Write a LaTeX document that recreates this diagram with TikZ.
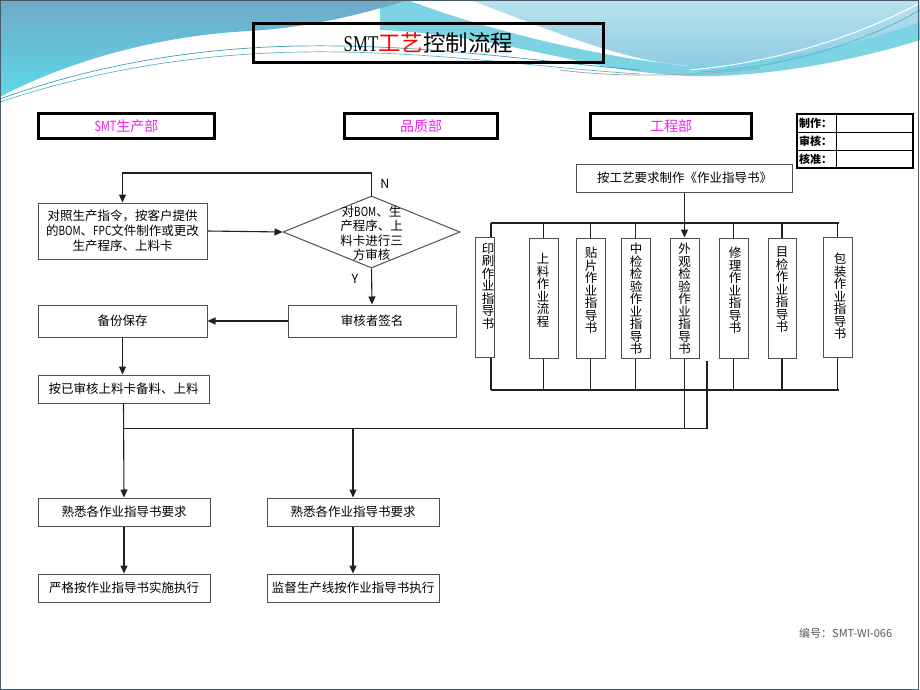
\documentclass[tikz,border=0pt]{standalone}
\usepackage{fontspec}
\usepackage{graphicx}
\setmainfont{Noto Sans CJK SC}
\newfontfamily\titlelat{Liberation Serif}
\usetikzlibrary{arrows.meta,shapes.geometric,calc}
\definecolor{deptc}{HTML}{F020F0}
\definecolor{boxc}{HTML}{505050}
\definecolor{lineC}{HTML}{202020}
\definecolor{blueA}{HTML}{6FA9C9}
\definecolor{blueB}{HTML}{5FD8E8}
\definecolor{cyanC}{HTML}{7CD3E3}
\definecolor{ltA}{HTML}{B8E2EE}
\definecolor{ltB}{HTML}{8FCBE3}
\definecolor{framec}{HTML}{4A5A66}
\newcommand\fsz[2]{\fontsize{#1}{#2}\selectfont}
\newcommand\nlat[1]{\scalebox{0.8}[1]{#1}}
\begin{document}
\begin{tikzpicture}[x=1pt,y=-1pt,
  pbox/.style={draw=boxc, line width=1pt, inner sep=0pt, align=center, font=\fsz{12.5}{15}},
  vbox/.style={draw=boxc, line width=1pt, inner sep=0pt, minimum height=120pt},
  vtext/.style={anchor=north, inner sep=0pt, align=center, font=\fsz{12.5}{12.5}},
  hdr/.style={draw=black, line width=3pt, minimum height=24pt, inner sep=0pt, text=deptc, font=\fsz{14}{16}},
  con/.style={draw=lineC, line width=1.1pt},
  arr/.style={con, -{Triangle[length=8pt,width=7pt]}},
  lbl/.style={inner sep=0pt, font=\fsz{12.5}{15}}]
\useasboundingbox (0,0) rectangle (920,690);
\fill[white] (0,0) rectangle (920,690);
% background waves
\fill[cyanC] (380,0) -- (920,0) -- (920,40) .. controls (850,62) and (760,78) .. (690,76)
  .. controls (640,74) and (600,66) .. (560,57) .. controls (500,44) and (440,32) .. (380,30) -- cycle;
\shade[top color=ltA, bottom color=ltB] (470,0) -- (920,0) -- (920,22) .. controls (850,48) and (760,64) .. (690,66)
  .. controls (620,62) and (530,22) .. (470,0) -- cycle;
\fill[white] (408,0) -- (470,0) .. controls (530,22) and (620,62) .. (690,66)
  .. controls (600,58) and (480,28) .. (408,0) -- cycle;
\shade[top color=blueA, bottom color=blueB] (0,0) -- (408,0) .. controls (350,18) and (300,28) .. (250,31)
  .. controls (150,36) and (60,65) .. (0,97) -- cycle;
\draw[color={rgb,255:red,58;green,160;blue,176}, line width=0.7pt] (0,99) .. controls (80,70) and (180,48) .. (300,46) .. controls (430,44) and (540,62) .. (640,70);
\draw[color={rgb,255:red,88;green,184;blue,200}, line width=0.7pt] (0,102) .. controls (90,72) and (190,54) .. (300,52) .. controls (430,50) and (540,68) .. (640,74);
\draw[color={rgb,255:red,160;green,168;blue,176}, line width=0.8pt] (560,70) .. controls (620,78) and (700,76) .. (760,68);
\draw[white, line width=1pt] (920,3) .. controls (860,35) and (780,62) .. (690,70);
\draw[color={rgb,255:red,90;green,184;blue,208}, line width=0.8pt] (920,10) .. controls (860,45) and (780,68) .. (700,72);
\draw[framec, line width=1.2pt] (0.6,0.6) rectangle (918.6,689.4);

% title
\node[draw=black, line width=3.5pt, minimum width=350pt, minimum height=39pt, inner sep=0pt, font=\fsz{22.5}{24}] (title) at (428.5,43)
  {\scalebox{0.75}[1]{\titlelat SMT}\textcolor{red}{工艺}控制流程};

% department headers
\node[hdr, minimum width=176pt] (hA) at (126.5,126) {\scalebox{0.78}[1]{SMT}生产部};
\node[hdr, minimum width=153pt] (hB) at (421,126) {品质部};
\node[hdr, minimum width=161pt] (hC) at (671,126) {工程部};

% sign-off table
\draw[black, line width=1.2pt] (797,114) rectangle (913,168);
\draw[black, line width=1pt] (797,132) -- (913,132) (797,150) -- (913,150) (836,114) -- (836,168);
\node[anchor=west, inner sep=0pt, font=\fsz{11}{12}\bfseries] (t1) at (799,123) {制作：};
\node[anchor=west, inner sep=0pt, font=\fsz{11}{12}\bfseries] (t2) at (799,141) {审核：};
\node[anchor=west, inner sep=0pt, font=\fsz{11}{12}\bfseries] (t3) at (799,159) {核准：};

% left flow
\node[pbox, minimum width=169pt, minimum height=56pt] (b1) at (122.5,231) {对照生产指令，按客户提供\\的\nlat{BOM}、\nlat{FPC}文件制作或更改\\生产程序、上料卡};
\node[draw=boxc, line width=1pt, diamond, minimum width=177pt, minimum height=72pt, inner sep=0pt] (dia) at (371.5,232) {};
\node[inner sep=0pt, align=center, font=\fsz{12.5}{14.5}] (diat) at (371.5,233.5) {对\nlat{BOM}、生\\产程序、上\\料卡进行三\\方审核};
\node[pbox, minimum width=168pt, minimum height=32pt] (sign) at (372,321) {审核者签名};
\node[pbox, minimum width=169pt, minimum height=32pt] (backup) at (122.5,321) {备份保存};
\node[pbox, minimum width=171pt, minimum height=28pt] (prep) at (123.5,389) {按已审核上料卡备料、上料};
\node[pbox, minimum width=172pt, minimum height=28pt] (fam1) at (124,512) {熟悉各作业指导书要求};
\node[pbox, minimum width=172pt, minimum height=28pt] (fam2) at (353,512) {熟悉各作业指导书要求};
\node[pbox, minimum width=172pt, minimum height=28pt] (exec1) at (124,588) {严格按作业指导书实施执行};
\node[pbox, minimum width=172pt, minimum height=28pt] (exec2) at (353,588) {监督生产线按作业指导书执行};

\draw[arr] (b1.east) -- (dia.west);
\coordinate (nTop) at (371.5,173);
\draw[arr] (dia.north) -- (nTop) -- (nTop -| b1.north) -- (b1.north);
\node[lbl] (nl) at (385,184) {N};
\draw[arr] (dia.south) -- (sign.north);
\node[lbl] (yl) at (355,279) {Y};
\draw[arr] (sign.west) -- (backup.east);
\draw[arr] (backup.south) -- (prep.north -| backup.south);
\draw[arr] (prep.south) -- (fam1.north);
\draw[arr] (fam1.south) -- (exec1.north);
\draw[arr] (fam2.south) -- (exec2.north);

% engineering
\node[pbox, minimum width=216pt, minimum height=28pt] (eng) at (684.5,178) {按工艺要求制作《作业指导书》};
\node[vbox, minimum width=19pt] (v1) at (484.5,297) {};
\node[vbox, minimum width=29pt] (v2) at (543.5,298) {};
\node[vbox, minimum width=29pt] (v3) at (590.5,298) {};
\node[vbox, minimum width=29pt] (v4) at (635.5,298) {};
\node[vbox, minimum width=29pt] (v5) at (684.5,298) {};
\node[vbox, minimum width=29pt] (v6) at (733.5,298) {};
\node[vbox, minimum width=28pt] (v7) at (782,298) {};
\node[vbox, minimum width=29pt] (v8) at (837.5,297) {};
\node[vtext] (v1t) at (488,243) {印\\刷\\作\\业\\指\\导\\书};
\node[vtext] (v2t) at (543,253) {上\\料\\作\\业\\流\\程};
\node[vtext] (v3t) at (591,247) {贴\\片\\作\\业\\指\\导\\书};
\node[vtext] (v4t) at (636,243) {中\\检\\检\\验\\作\\业\\指\\导\\书};
\node[vtext] (v5t) at (684.5,243) {外\\观\\检\\验\\作\\业\\指\\导\\书};
\node[vtext] (v6t) at (735,247) {修\\理\\作\\业\\指\\导\\书};
\node[vtext] (v7t) at (782,247) {目\\检\\作\\业\\指\\导\\书};
\node[vtext] (v8t) at (840,253) {包\\装\\作\\业\\指\\导\\书};

\draw[arr] (eng.south) -- (v5.north);
\coordinate (tl) at (491,223);
\coordinate (tr) at (839,223);
\coordinate (bl) at (491,390);
\coordinate (br) at (839,390);
\draw[con] (tl) -- (tr);
\draw[con] (bl) -- (br);
\draw[con] (tl) -- (tl |- v1.north);
\draw[con] (bl) -- (bl |- v1.south);
\foreach \v in {v2,v3,v4,v6,v7,v8}{
  \draw[con] (\v.north) -- (\v.north |- tl);
  \draw[con] (\v.south) -- (\v.south |- bl);
}
\coordinate (j1) at (707,361);
\coordinate (j2) at (707,428.5);
\draw[con] (v5.south) -- (v5.south |- j2);
\draw[con] (j1) -- (j2) -- (prep.south |- j2);
\draw[arr] (fam2.north |- j2) -- (fam2.north);

% footer
\node[anchor=west, inner sep=0pt, text={rgb,255:red,90;green,90;blue,90}, font=\fsz{11}{12}] (foot) at (799,633) {编号：SMT-WI-066};
\end{tikzpicture}
\end{document}
